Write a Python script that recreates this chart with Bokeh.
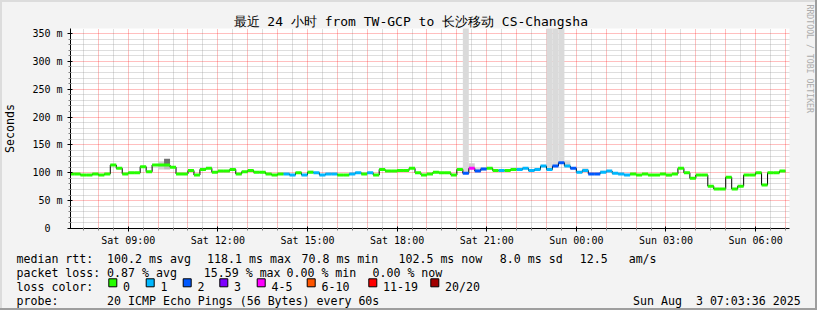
import math
from bokeh.plotting import figure
from bokeh.layouts import column
from bokeh.models import (FixedTicker, Range1d, ColumnDataSource, Title)
from bokeh.core.properties import value
from bokeh.embed import file_html
from bokeh.resources import INLINE

# ---------------- data ----------------
# 12-minute bins, hours since Sat 00:00
bin_first_hour = 7.0
bin_len_hours = 0.2

median_ms = [
    98, 98, 96, 96, 98, 96, 98, 114, 108, 98,
    100, 100, 111, 102, 114, 114, 114, 110, 98, 98,
    104, 96, 106, 108, 101, 103, 103, 106, 98, 102,
    104, 101, 101, 98, 96, 98, 98, 96, 100, 96,
    101, 100, 96, 98, 98, 96, 96, 98, 100, 98,
    100, 96, 106, 103, 103, 104, 104, 108, 100, 96,
    98, 101, 100, 100, 96, 106, 99, 108, 103, 107,
    108, 104, 104, 104, 106, 106, 108, 104, 106, 112,
    106, 112, 118, 112, 108, 101, 104, 98, 98, 101,
    103, 99, 98, 96, 98, 96, 98, 96, 96, 98,
    96, 98, 108, 100, 90, 96, 96, 76, 71, 71,
    92, 71, 76, 96, 96, 100, 78, 100, 100, 103,
]

# index into loss_colors for every bin
loss_level = [
    0, 0, 0, 0, 0, 0, 0, 0, 0, 0,
    0, 0, 0, 0, 0, 0, 0, 0, 0, 0,
    0, 0, 0, 0, 0, 0, 0, 0, 0, 0,
    0, 0, 0, 0, 0, 0, 1, 1, 0, 1,
    0, 1, 1, 1, 1, 0, 0, 1, 1, 0,
    1, 0, 0, 0, 0, 0, 0, 0, 0, 0,
    0, 0, 0, 0, 0, 0, 2, 4, 2, 2,
    0, 0, 1, 0, 0, 1, 1, 1, 1, 1,
    1, 2, 2, 1, 2, 1, 1, 2, 2, 1,
    1, 1, 1, 1, 0, 0, 0, 0, 0, 0,
    0, 0, 0, 0, 0, 0, 0, 0, 0, 0,
    0, 0, 0, 0, 0, 0, 0, 0, 0, 0,
]

loss_colors = ["#26ff00", "#00b8ff", "#0059ff", "#7e00ff",
               "#ff00ff", "#ff5500", "#ff0000", "#a10000"]
loss_labels = ["0", "1", "2", "3", "4-5", "6-10", "11-19", "20/20"]

# smoke (spread of the 20 pings) where it shows beyond the median line
smoke_bin = [15, 16, 16, 40, 66, 67, 68, 69, 80, 81, 82, 83, 86, 89, 100]
smoke_lo = [106, 106, 115, 100, 100, 108, 103, 104, 106, 112, 117, 112, 104, 101, 93]
smoke_hi = [120, 115, 125, 104, 400, 117, 108, 107, 400, 400, 400, 122, 108, 104, 96]
smoke_shade = ["#d2d2d2", "#bcbcbc", "#707070", "#dadada", "#dadada", "#d0d0d0",
               "#d4d4d4", "#d8d8d8", "#dadada", "#dadada", "#dadada", "#d6d6d6",
               "#d8d8d8", "#d8d8d8", "#d4d4d4"]

x_label_hours = [9, 12, 15, 18, 21, 24, 27, 30]
x_labels = ["Sat 09:00", "Sat 12:00", "Sat 15:00", "Sat 18:00",
            "Sat 21:00", "Sun 00:00", "Sun 03:00", "Sun 06:00"]
y_major = [0, 50, 100, 150, 200, 250, 300, 350]
y_labels = ["0\u00a0\u00a0", "50 m", "100 m", "150 m", "200 m", "250 m", "300 m", "350 m"]

title_text = "最近 24 小时 from TW-GCP to 长沙移动 CS-Changsha"
rtt_stats = ["100.2 ms avg", "118.1 ms max", "70.8 ms min", "102.5 ms now",
             "8.0 ms sd", "12.5\u00a0\u00a0\u00a0am/s"]
loss_stats = ["0.87 % avg", "15.59 % max", "0.00 % min", "0.00 % now"]
probe_text = "20 ICMP Echo Pings (56 Bytes) every 60s"
stamp_text = "Sun Aug\u00a0\u00a03 07:03:36 2025"

# ---------------- layout ----------------
W, H = 817, 310
H_TOP = 248                             # chart part; legend part below
FL, FR, FT, FB = 67, 789, 28, 228      # frame edges in canvas pixels
PX_PER_HOUR = 30.0
X0 = 7.068
X1 = X0 + (FR - FL) / PX_PER_HOUR
Y1 = 359.0
MONO = "DejaVu Sans Mono"
BG = "#f3f3f3"

p = figure(width=W, height=H_TOP, output_backend="svg", toolbar_location=None,
           x_range=Range1d(X0, X1), y_range=Range1d(0, Y1),
           min_border_left=FL, min_border_right=W - FR,
           min_border_top=FT, min_border_bottom=H_TOP - FB,
           background_fill_color="#ffffff", border_fill_color=BG)
p.border_fill_alpha = 0.0          # the page container supplies the grey and the 3D edge
p.outline_line_color = None

# title
p.title.text = title_text
p.title.align = "left"
p.title.offset = 230 - FL
p.title.standoff = 0
p.title.text_font = MONO
p.title.text_font_size = "13px"
p.title.text_font_style = "normal"
p.title.text_color = "#000000"

# watermark on the right (a blank spacer title pushes it outwards)
p.add_layout(Title(text="\u00a0", standoff=10.6, text_font=MONO,
                   text_font_size="1px", text_font_style="normal"), "right")
p.add_layout(Title(text="RRDTOOL / TOBI OETIKER", align="left", vertical_align="middle",
                   offset=4 - FT, standoff=0, text_font=MONO, text_font_size="8.2px",
                   text_font_style="normal", text_color="#ababab"), "right")

# grids
hours = list(range(8, 32))
half_hours = [h + 0.5 for h in range(7, 31)]
p.xgrid.ticker = FixedTicker(ticks=hours, minor_ticks=half_hours)
p.ygrid.ticker = FixedTicker(ticks=y_major[1:],
                             minor_ticks=[v for v in range(10, 360, 10) if v % 50])
for g in (p.xgrid, p.ygrid):
    g.grid_line_color = "#ff0000"
    g.grid_line_alpha = 0.5
    g.grid_line_dash = "1 1"
    g.minor_grid_line_color = "#909090"
    g.minor_grid_line_alpha = 0.6
    g.minor_grid_line_dash = "1 1"

# axes
p.xaxis.ticker = FixedTicker(ticks=x_label_hours,
                             minor_ticks=[h for h in hours if h not in x_label_hours] + half_hours)
p.xaxis.major_label_overrides = {h: t for h, t in zip(x_label_hours, x_labels)}
p.yaxis.ticker = FixedTicker(ticks=y_major,
                             minor_ticks=[v for v in range(10, 360, 10) if v % 50])
p.yaxis.major_label_overrides = {v: t for v, t in zip(y_major, y_labels)}
for ax in (p.xaxis, p.yaxis):
    ax.axis_line_color = "#000000"
    ax.major_tick_line_color = "#000000"
    ax.minor_tick_line_color = "#808080"
    ax.major_tick_out = 3
    ax.major_tick_in = 2
    ax.minor_tick_out = 2
    ax.minor_tick_in = 1
    ax.major_label_text_font = MONO
    ax.major_label_text_font_size = "10px"
    ax.major_label_text_color = "#000000"
p.xaxis.major_label_standoff = 3
p.yaxis.major_label_standoff = 5
p.yaxis.axis_label = "Seconds"
p.yaxis.axis_label_text_font = MONO
p.yaxis.axis_label_text_font_size = "11.6px"
p.yaxis.axis_label_text_font_style = "normal"
p.yaxis.axis_label_text_color = "#000000"
p.yaxis.axis_label_standoff = 12

# ---------------- marks ----------------
starts = [bin_first_hour + bin_len_hours * i for i in range(len(median_ms))]
ends = [s + bin_len_hours for s in starts]

smoke = ColumnDataSource(dict(
    left=[starts[b] for b in smoke_bin], right=[ends[b] for b in smoke_bin],
    bottom=smoke_lo, top=smoke_hi, color=smoke_shade))
p.quad(left="left", right="right", bottom="bottom", top="top",
       fill_color="color", line_color=None, source=smoke)

p.step(x=starts + [ends[-1]], y=median_ms + [median_ms[-1]], mode="after",
       line_color="#000000", line_width=1)

med = ColumnDataSource(dict(x0=starts, x1=ends, y=median_ms,
                            color=[loss_colors[l] for l in loss_level]))
p.segment(x0="x0", y0="y", x1="x1", y1="y", line_color="color",
          line_width=3, line_cap="butt", source=med)

# ---------------- legend area (its own figure, pixel coordinates) ----------------
q = figure(width=W, height=H - H_TOP, output_backend="svg", toolbar_location=None,
           x_range=Range1d(0, W), y_range=Range1d(H, H_TOP),
           x_axis_type=None, y_axis_type=None,
           min_border_left=0, min_border_right=0, min_border_top=0, min_border_bottom=0,
           background_fill_color=BG, border_fill_color=BG)
q.background_fill_alpha = 0.0
q.border_fill_alpha = 0.0
q.outline_line_color = None

# do not let the column align the frames of the two figures
for fig in (p, q):
    try:
        fig.frame_align = False
    except Exception:
        pass

base1, base2, base3, base4 = 258.3, 272.3, 286.3, 300.3
tx, ty, tt = [], [], []


def put(t, x, y):
    tx.append(x)
    ty.append(y)
    tt.append(t)


put("median rtt:", 16, base1)
for t, x in zip(rtt_stats, [106.6, 206.6, 301, 398, 499.3, 579.3]):
    put(t, x, base1)
put("packet loss:", 16, base2)
for t, x in zip(loss_stats, [106.6, 203.3, 286, 372]):
    put(t, x, base2)
put("loss color:", 16, base3)
box_x = [108.3, 145.7, 182.7, 219.3, 256.7, 306.7, 368.3, 430.3]
for t, bx in zip(loss_labels, box_x):
    put(t, bx + 14.3, base3)
put("probe:", 16, base4)
put(probe_text, 106.6, base4)
put(stamp_text, 632.6, base4)

q.text(x=tx, y=ty, text=tt, text_font=value(MONO), text_font_size=value("11.6px"),
       text_baseline="alphabetic", text_align="left", text_color="#000000")

q.quad(left=box_x, right=[b + 8 for b in box_x], top=[278.3] * len(box_x),
       bottom=[286.3] * len(box_x), fill_color=loss_colors, line_color="#000000",
       line_width=1)

layout = column(p, q, spacing=0,
                styles={"background-color": BG,
                        "box-shadow": "inset -2px -2px 0 0 #9e9e9e, inset 2px 2px 0 0 #dcdcdc"})
open("out.html", "w").write(file_html(layout, INLINE))
